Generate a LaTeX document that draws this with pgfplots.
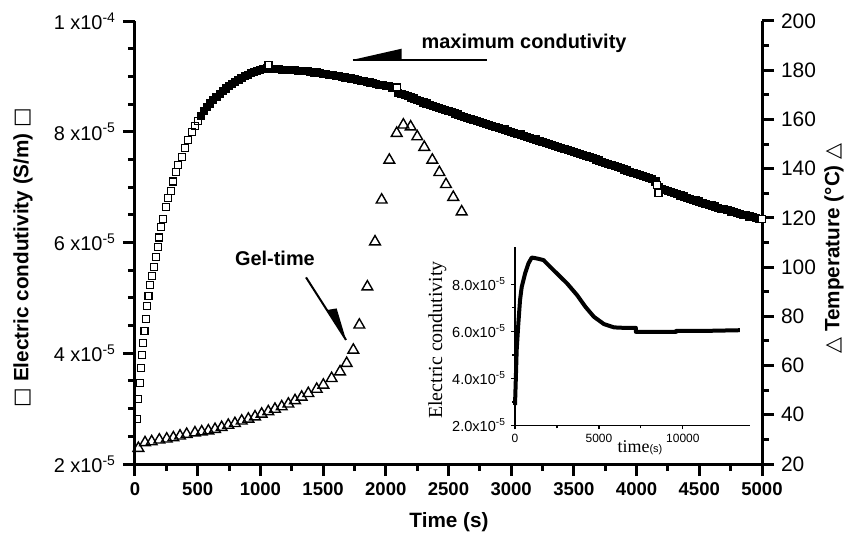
\documentclass[border=0pt]{standalone}
\usepackage{fontspec}
\setmainfont{Liberation Sans}
\newfontfamily\timesfont{Liberation Serif}
\newfontfamily\symfont{DejaVu Sans}
\usepackage{pgfplots}
\pgfplotsset{compat=1.18}

% shared frame for the two overlaid axes (1 px of the reference = 0.5bp)
\pgfplotsset{
  thickframe/.style={
    scale only axis, width=313.5bp, height=221.5bp,
    at={(0,0)}, anchor=south west,
    xmin=0, xmax=5000,
    axis line style={line width=1.5bp},
    every tick/.style={black, line width=1.5bp},
    tick align=outside,
    major tick length=6bp, minor tick length=3.5bp,
    /pgf/number format/assume math mode=true,
    /pgf/number format/1000 sep={},
    clip=false,
  },
}

\begin{document}
\begin{tikzpicture}
\path[use as bounding box] (-67.5bp,-41.5bp) rectangle (357.5bp,232bp);

% ---- temperature, right axis
\begin{axis}[thickframe,
  ymin=20, ymax=200,
  axis x line=none, axis y line*=right,
  ytick={20,40,...,200}, minor y tick num=1,
  yticklabel style={font=\fontsize{10.5}{12}\selectfont},
]
\addplot[only marks, mark=triangle, mark size=3.1bp,
  mark options={line width=0.7bp, fill=white}] coordinates {
  (27,26.4) (80,28.7) (133,29.1) (194,29.8) (253,30.2) (306,30.7) (359,31.4)
  (412,32.1) (478,32.7) (532,33.1) (585,33.5) (638,34.1) (691,34.9) (744,35.8)
  (797,36.5) (851,37.5) (904,38.3) (957,39.2) (1010,40.3) (1063,41.3)
  (1116,42.3) (1170,43.3) (1223,44.4) (1276,45.8) (1329,47.2) (1382,48.7)
  (1449,50.4) (1502,52.1) (1568,54.8) (1635,57.5) (1688,60.9) (1741,66.3)
  (1789,76.5) (1853,92.0) (1914,110.3) (1967,127.3) (2028,143.5) (2087,154.4)
  (2140,157.8) (2198,157.0) (2251,153.0) (2307,148.7) (2371,143.5)
  (2427,138.5) (2480,133.6) (2538,128.4) (2605,122.5)
};
\end{axis}

% ---- conductivity, left axis (values in 1e-5 S/m)
\begin{axis}[thickframe,
  ymin=2, ymax=10,
  axis x line*=bottom, axis y line*=left,
  xtick={0,500,...,5000}, minor x tick num=1,
  ytick={2,4,6,8,10}, minor y tick num=3,
  yticklabels={2 x10\textsuperscript{-5},4 x10\textsuperscript{-5},
    6 x10\textsuperscript{-5},8 x10\textsuperscript{-5},1 x10\textsuperscript{-4}},
  xticklabel style={font=\fontsize{9.3}{11}\bfseries\selectfont},
  yticklabel style={font=\fontsize{10}{12}\selectfont},
]
% rising part, open squares
\addplot[only marks, mark=square, mark size=1.75bp, mark options={line width=0.6bp}]
coordinates {
  (18,2.81) (27,3.17) (40,3.46) (48,3.74) (59,3.97) (67,4.19) (75,4.40)
  (85,4.62) (93,4.86) (108,5.03) (122,5.23) (136,5.40) (152,5.56) (167,5.74)
  (181,5.92) (194,6.09) (210,6.28) (226,6.43) (245,6.64) (266,6.80)
  (285,6.93) (306,7.10) (327,7.28) (345,7.40) (372,7.55) (399,7.70)
  (425,7.85) (452,8.00) (476,8.10) (500,8.20)
};
% dense part, squares packed into a band
\addplot[only marks, mark=square*, mark size=1.75bp,
  mark options={line width=0.6bp, fill=black}] coordinates {
  (525,8.29) (550,8.37) (575,8.44) (600,8.51) (625,8.57) (650,8.63) (675,8.68)
  (700,8.74) (725,8.78) (750,8.82) (775,8.86) (800,8.90) (825,8.94) (850,8.97)
  (875,9.00) (900,9.03) (925,9.06) (950,9.08) (975,9.10) (1000,9.12)
  (1025,9.14) (1050,9.15) (1075,9.14) (1100,9.14) (1125,9.13) (1150,9.13)
  (1175,9.12) (1200,9.12) (1225,9.12) (1250,9.11) (1275,9.11) (1300,9.10)
  (1325,9.10) (1350,9.09) (1375,9.09) (1400,9.08) (1425,9.07) (1450,9.07)
  (1475,9.06) (1500,9.05) (1525,9.04) (1550,9.03) (1575,9.02) (1600,9.01)
  (1625,9.00) (1650,8.99) (1675,8.98) (1700,8.97) (1725,8.96) (1750,8.95)
  (1775,8.94) (1800,8.92) (1825,8.91) (1850,8.90) (1875,8.89) (1900,8.88)
  (1925,8.86) (1950,8.85) (1975,8.84) (2000,8.83) (2025,8.82) (2050,8.80)
  (2075,8.79) (2100,8.70) (2125,8.68) (2150,8.66) (2175,8.64) (2200,8.62)
  (2225,8.60) (2250,8.57) (2275,8.55) (2300,8.53) (2325,8.51) (2350,8.49)
  (2375,8.47) (2400,8.45) (2425,8.43) (2450,8.41) (2475,8.39) (2500,8.37)
  (2525,8.35) (2550,8.33) (2575,8.31) (2600,8.29) (2625,8.27) (2650,8.25)
  (2675,8.23) (2700,8.21) (2725,8.20) (2750,8.18) (2775,8.16) (2800,8.14)
  (2825,8.12) (2850,8.11) (2875,8.09) (2900,8.07) (2925,8.05) (2950,8.04)
  (2975,8.02) (3000,8.00) (3025,7.98) (3050,7.96) (3075,7.95) (3100,7.93)
  (3125,7.91) (3150,7.89) (3175,7.87) (3200,7.86) (3225,7.84) (3250,7.82)
  (3275,7.80) (3300,7.78) (3325,7.76) (3350,7.74) (3375,7.73) (3400,7.71)
  (3425,7.69) (3450,7.67) (3475,7.65) (3500,7.63) (3525,7.61) (3550,7.60)
  (3575,7.58) (3600,7.56) (3625,7.54) (3650,7.52) (3675,7.50) (3700,7.48)
  (3725,7.46) (3750,7.44) (3775,7.42) (3800,7.40) (3825,7.38) (3850,7.36)
  (3875,7.34) (3900,7.32) (3925,7.30) (3950,7.28) (3975,7.26) (4000,7.24)
  (4025,7.22) (4050,7.20) (4075,7.18) (4100,7.16) (4125,7.14) (4150,7.10)
  (4175,7.00) (4200,6.97) (4225,6.95) (4250,6.93) (4275,6.91) (4300,6.89)
  (4325,6.87) (4350,6.85) (4375,6.83) (4400,6.81) (4425,6.79) (4450,6.77)
  (4475,6.76) (4500,6.74) (4525,6.72) (4550,6.70) (4575,6.68) (4600,6.67)
  (4625,6.65) (4650,6.63) (4675,6.61) (4700,6.60) (4725,6.58) (4750,6.56)
  (4775,6.55) (4800,6.53) (4825,6.52) (4850,6.50) (4875,6.49) (4900,6.47)
  (4925,6.46) (4950,6.44) (4975,6.43)
};
% a few squares that stand out of the band
\addplot[only marks, mark=square*, mark size=1.75bp,
  mark options={line width=0.6bp, fill=white}] coordinates {
  (1065,9.20) (2090,8.80) (4160,7.04) (4175,6.89) (5000,6.43)
};
% annotations
\draw[line width=1bp] (axis cs:1738,9.30) -- (axis cs:2807,9.30);
\fill (axis cs:1738,9.30) -- (axis cs:2127,9.50) -- (axis cs:2127,9.30) -- cycle;
\node[anchor=west, font=\fontsize{10}{12}\bfseries\selectfont] at (axis cs:2230,9.60) {maximum condutivity};
\draw[line width=1bp] (axis cs:1364,5.37) -- (axis cs:1683,4.24);
\fill (axis cs:1529,4.78) -- (axis cs:1608,4.81) -- (axis cs:1683,4.24) -- cycle;
\node[font=\fontsize{10}{12}\bfseries\selectfont] at (axis cs:1116,5.72) {Gel-time};
\end{axis}

% ---- inset: full run
\begin{axis}[
  scale only axis, at={(190bp,19.25bp)}, anchor=south west,
  width=117.5bp, height=89.4bp,
  xmin=0, xmax=14000, ymin=2, ymax=9.6,
  axis x line*=bottom, axis y line*=left,
  axis line style={line width=0.6bp},
  every tick/.style={black, line width=0.6bp},
  tick align=outside, major tick length=2bp, minor tick length=1.5bp,
  xtick={0,5000,10000}, minor x tick num=1,
  ytick={2,4,6,8}, minor y tick num=1,
  yticklabels={2.0x10\textsuperscript{-5},4.0x10\textsuperscript{-5},
    6.0x10\textsuperscript{-5},8.0x10\textsuperscript{-5}},
  scaled x ticks=false,
  /pgf/number format/assume math mode=true,
  /pgf/number format/1000 sep={},
  xticklabel style={font=\fontsize{6}{7}\selectfont, yshift=1bp},
  yticklabel style={font=\fontsize{7.3}{8}\selectfont, xshift=1bp},
  clip=false,
]
\addplot[line width=2bp, line join=round] coordinates {
  (0,2.87) (50,4.0) (100,5.2) (200,6.34) (300,7.33) (400,7.89) (600,8.46)
  (800,8.89) (1000,9.14) (1300,9.10) (1700,9.03) (2100,8.74) (2600,8.39)
  (3100,8.04) (3700,7.54) (4200,7.04) (4700,6.62) (5300,6.31) (5900,6.17)
  (6500,6.15) (7200,6.15) (7200,5.98) (9600,5.98) (9600,6.02) (11250,6.02)
  (13400,6.05)
};
\end{axis}

% ---- titles
\node[rotate=90, font=\fontsize{10.4}{12}\selectfont] at (-56bp,103.25bp)
  {{\symfont □} {\bfseries Electric condutivity (S/m)} {\symfont □}};
\node[rotate=90, font=\fontsize{10.4}{12}\selectfont] at (349.5bp,107.75bp)
  {{\symfont △} {\bfseries Temperature (°C)} {\symfont △}};
\node[font=\fontsize{10.4}{12}\bfseries\selectfont] at (157bp,-29bp) {Time (s)};
\node[rotate=90, font=\fontsize{10}{11}\timesfont] at (151.2bp,62bp) {Electric condutivity};
\node at (252.5bp,8bp) {{\fontsize{9}{10}\timesfont time}{\fontsize{5.5}{6}\selectfont(s)}};
\end{tikzpicture}
\end{document}
